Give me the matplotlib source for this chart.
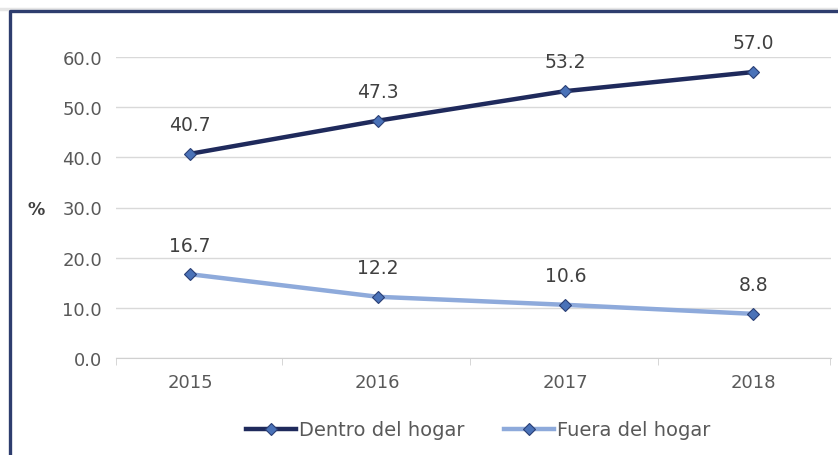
import matplotlib.pyplot as plt
from matplotlib.lines import Line2D

# datos
years = ['2015', '2016', '2017', '2018']
dentro = [40.7, 47.3, 53.2, 57.0]
fuera = [16.7, 12.2, 10.6, 8.8]
yticks = [0, 10, 20, 30, 40, 50, 60]

plt.rcParams['font.family'] = ['DejaVu Sans']

W, H = 838, 456
fig = plt.figure(figsize=(W / 100, H / 100), dpi=100)

# marco del recuadro
fig.add_artist(Line2D([0, 1], [1 - 9.5 / H, 1 - 9.5 / H], transform=fig.transFigure,
                      color='#e6e6e6', lw=2.5))
fig.add_artist(Line2D([9.5 / W, 9.5 / W, 1.01], [-0.01, 1 - 12 / H, 1 - 12 / H],
                      transform=fig.transFigure, color='#2e3d6e', lw=2.4))

ax = fig.add_axes([116 / W, 1 - 359 / H, (831 - 116) / W, (359 - 58) / H])

x = range(len(years))
c_dentro = '#1f2a5c'
c_fuera = '#8eaadb'
mk = dict(marker='D', markersize=6.5, markerfacecolor='#4a72b8',
          markeredgecolor='#2a3f75', markeredgewidth=0.8)
ax.plot(x, dentro, color=c_dentro, lw=3.2, label='Dentro del hogar', **mk)
ax.plot(x, fuera, color=c_fuera, lw=3.2, label='Fuera del hogar', **mk)

for serie in (dentro, fuera):
    for i, v in enumerate(serie):
        ax.annotate(f'{v:.1f}', (i, v), xytext=(0, 21), textcoords='offset points',
                    ha='center', va='center', fontsize=13.5, color='#404040')

ax.set_xlim(-0.395, 3.415)
ax.set_ylim(0, 60)
ax.set_yticks(yticks)
ax.set_yticklabels([f'{t:.1f}' for t in yticks])
ax.set_xticks(list(x))
ax.set_xticklabels(years)
ax.set_xticks([-0.395, 0.49, 1.49, 2.495, 3.41], minor=True)

ax.grid(axis='y', color='#d9d9d9', lw=1)
ax.set_axisbelow(True)
for s in ['top', 'right', 'left']:
    ax.spines[s].set_visible(False)
ax.spines['bottom'].set_color('#d0d0d0')
ax.tick_params(axis='y', length=0, pad=10, labelsize=13, labelcolor='#595959')
ax.tick_params(axis='x', which='major', length=0, pad=11, labelsize=13, labelcolor='#595959')
ax.tick_params(axis='x', which='minor', length=5, color='#d0d0d0')

fig.text(36 / W, 1 - 210 / H, '%', fontsize=12.5, fontweight='bold', color='#404040',
         ha='center', va='center')

fig.legend(loc='center', bbox_to_anchor=(478 / W, 1 - 431 / H), ncol=2, frameon=False,
           fontsize=14, labelcolor='#595959', handlelength=2.6, handletextpad=0.15,
           columnspacing=2.0)

fig.savefig('out.png', dpi=100)
